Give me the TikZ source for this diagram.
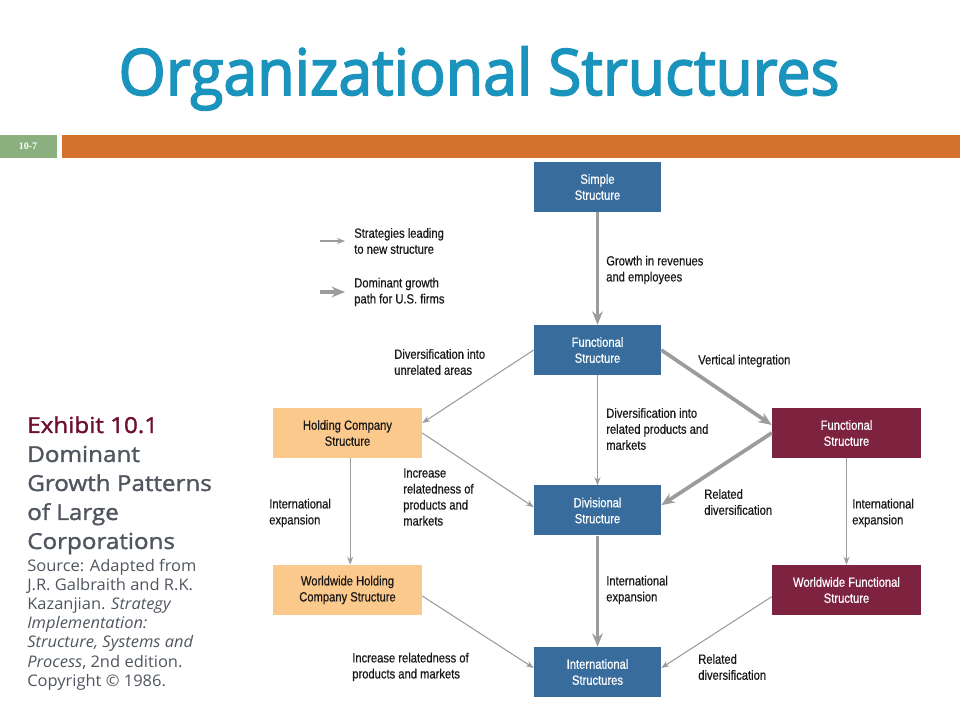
\documentclass[tikz,border=0pt]{standalone}
\usepackage{fontspec}
\usetikzlibrary{arrows.meta,calc}
\setmainfont{Liberation Sans}
\newfontfamily\titlefont[FakeBold=2.5,FakeStretch=0.95]{Open Sans}
\newfontfamily\headfont[FakeBold=1.5,FakeStretch=1.1]{Open Sans}
\newfontfamily\sourcefont[FakeStretch=1.03]{Open Sans}
\newfontfamily\chartfont[FakeStretch=0.84,FakeBold=0.5]{Liberation Sans}
\newfontfamily\numfont{Liberation Serif}

\definecolor{titleblue}{HTML}{1B94BD}
\definecolor{numgreen}{HTML}{8BAF7D}
\definecolor{barorange}{HTML}{D3712D}
\definecolor{boxblue}{HTML}{386C9D}
\definecolor{boxred}{HTML}{7D2340}
\definecolor{boxtan}{HTML}{FCC98C}
\definecolor{arrowgray}{HTML}{9C9C9C}
\definecolor{headred}{HTML}{6E0F30}
\definecolor{headgray}{HTML}{50565F}

\def\chartsize{\chartfont\fontsize{10}{12}\selectfont}

\tikzset{
  box/.style={minimum width=95.25pt, minimum height=37.5pt, inner sep=1pt, align=center, font=\chartsize},
  bluebox/.style={box, fill=boxblue, text=white},
  redbox/.style={box, fill=boxred, text=white, minimum width=111.75pt},
  tanbox/.style={box, fill=boxtan, text=black!90, minimum width=111.75pt},
  note/.style={anchor=west, inner sep=0pt, align=left, font=\chartsize, text=black!90},
  thinarrow/.style={draw=arrowgray, line width=0.8pt, -{Stealth[length=6pt,width=4.5pt]}},
  thickarrow/.style={draw=arrowgray, line width=2.8pt, -{Stealth[length=10pt,width=8pt]}},
}

\begin{document}
\begin{tikzpicture}[x=0.75pt, y=0.75pt]
		%%%%% START %%%%%
		
		\useasboundingbox (0, 0) rectangle (960, 720);
		\fill[white] (0, 0) rectangle (960, 720);
		
		\node[font=\titlefont\fontsize{48}{50}\selectfont, text=titleblue, anchor=base] (title) at (479, 625) {Organizational Structures};
		
		\fill[numgreen] (0, 562) rectangle (57, 585);
		\fill[barorange] (62, 562) rectangle (960, 585);
		\node[font=\numfont\bfseries\fontsize{7.5}{9}\selectfont, text=white] (slideno) at (28, 573.5) {10-7};
		
		%%%%% LEFT TEXT %%%%%
		
		\node[anchor=north west, inner sep=0pt, align=left, text=headgray, font=\headfont\fontsize{16.5}{21.75}\selectfont] (exhibit) at (27, 304)
			{\textcolor{headred}{Exhibit 10.1}\\Dominant\\Growth Patterns\\of Large\\Corporations};
		\node[anchor=north west, inner sep=0pt, align=left, text=headgray, font=\sourcefont\fontsize{12}{14.4}\selectfont] (source) at (27, 161.5)
			{Source: Adapted from\\J.R. Galbraith and R.K.\\Kazanjian. \textit{Strategy}\\\textit{Implementation:}\\\textit{Structure, Systems and}\\\textit{Process}, 2nd edition.\\Copyright \textcopyright\ 1986.};
		
		%%%%% LEGEND %%%%%
		
		\node[note] (legthin) at (354, 479) {Strategies leading\\to new structure};
		\node[note] (legthick) at (354, 428) {Dominant growth\\path for U.S. firms};
		\coordinate (legthinstart) at (320, 479);
		\coordinate (legthickstart) at (320, 428);
		\draw[thinarrow] (legthinstart) -- ([xshift=-6.75pt]legthin.west);
		\draw[thickarrow] (legthickstart) -- ([xshift=-6.75pt]legthick.west);
		
		%%%%% BOXES %%%%%
		
		\node[bluebox] (simple) at (597.5, 533) {Simple\\Structure};
		\node[bluebox] (func) at (597.5, 370) {Functional\\Structure};
		\node[bluebox] (div) at (597.5, 209.5) {Divisional\\Structure};
		\node[bluebox] (intl) at (597.5, 48) {International\\Structures};
		
		\node[tanbox] (hold) at (347.5, 287) {Holding Company\\Structure};
		\node[tanbox] (wwhold) at (347.5, 130) {Worldwide Holding\\Company Structure};
		
		\node[redbox] (vfunc) at (846.5, 287) {Functional\\Structure};
		\node[redbox] (wwfunc) at (846.5, 130) {Worldwide Functional\\Structure};
		
		%%%%% ARROWS %%%%%
		
		\draw[thickarrow] (simple.south) -- (func.north);
		\draw[thinarrow] (func.west) -- ([yshift=7.5pt]hold.east);
		\draw[thinarrow] (func.south) -- (div.north);
		\draw[thickarrow] (func.east) -- ([yshift=6pt]vfunc.west);
		\draw[thickarrow] (vfunc.west) -- ([yshift=4pt]div.east);
		\draw[thinarrow] (hold.east) -- ([yshift=2.5pt]div.west);
		\draw[thinarrow] ([xshift=2pt]hold.south) -- ([xshift=2pt]wwhold.north);
		\draw[thinarrow] (vfunc.south) -- (wwfunc.north);
		\draw[thickarrow] (div.south) -- (intl.north);
		\draw[thinarrow] ([yshift=-4.5pt]wwhold.east) -- ([yshift=3pt]intl.west);
		\draw[thinarrow] ([yshift=-5pt]wwfunc.west) -- ([yshift=3pt]intl.east);
		
		%%%%% LABELS %%%%%
		
		\node[note] (growth) at (606, 450) {Growth in revenues\\and employees};
		\node[note] (unrel) at (394, 358) {Diversification into\\unrelated areas};
		\node[note] (vert) at (698, 359) {Vertical integration};
		\node[note] (relprod) at (606, 291) {Diversification into\\related products and\\markets};
		\node[note] (intexpa) at (269, 207) {International\\expansion};
		\node[note] (incrrela) at (403, 223) {Increase\\relatedness of\\products and\\markets};
		\node[note] (reldiva) at (704, 218) {Related\\diversification};
		\node[note] (intexpb) at (852, 207) {International\\expansion};
		\node[note] (intexpc) at (606, 130) {International\\expansion};
		\node[note] (incrrelb) at (352, 53) {Increase relatedness of\\products and markets};
		\node[note] (reldivb) at (698, 53) {Related\\diversification};
		
		%%%%% END %%%%%
\end{tikzpicture}
\end{document}
